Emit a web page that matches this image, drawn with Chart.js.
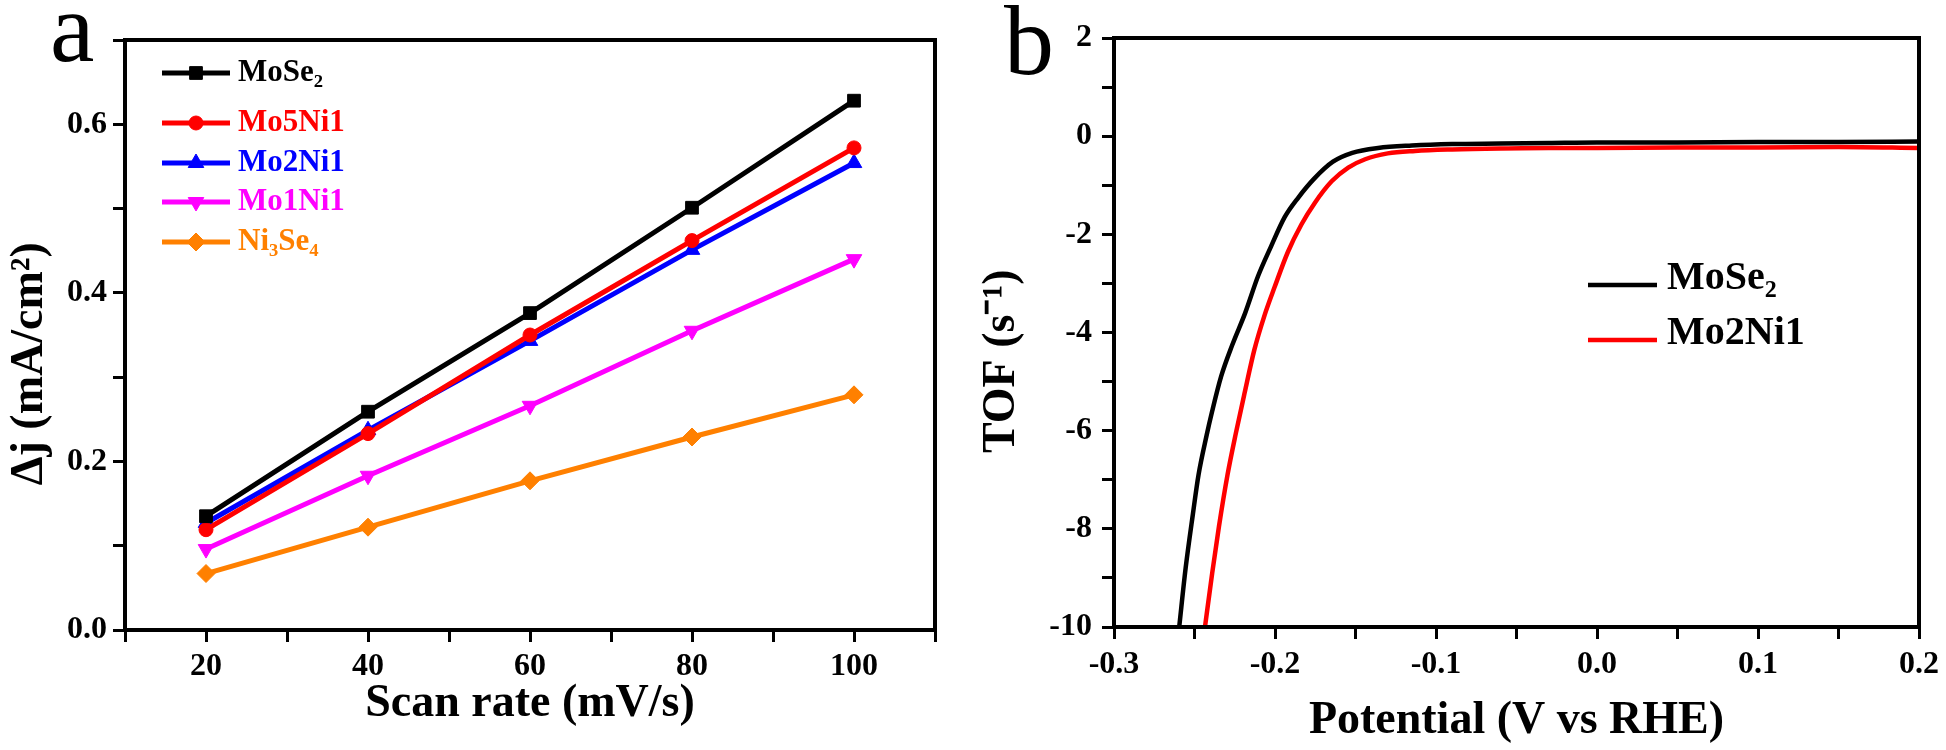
<!DOCTYPE html>
<html>
<head>
<meta charset="utf-8">
<script src="https://cdn.jsdelivr.net/npm/chart.js@4.4.0/dist/chart.umd.min.js"></script>
<style>
  html, body { margin: 0; padding: 0; background: #fff; }
  body { width: 1946px; height: 750px; position: relative; overflow: hidden; }
  canvas { position: absolute; top: 0; }
  #chartA { left: 0; }
  #chartB { left: 950px; }
  .panel { position: absolute; font: 100px "Liberation Serif", "Times New Roman", serif; line-height: 100px; color: #000; }
</style>
</head>
<body>
<div class="panel" style="left:50px; top:-22px;">a</div>
<div class="panel" style="left:1004px; top:-9px;">b</div>
<canvas id="chartA" width="980" height="750"></canvas>
<canvas id="chartB" width="996" height="750"></canvas>
<script>
// panel a: double-layer current difference vs scan rate
const scanRates = [20, 40, 60, 80, 100];
const moSe2Vals  = [0.135, 0.259, 0.376, 0.501, 0.628];
const mo5Ni1Vals = [0.119, 0.233, 0.350, 0.462, 0.572];
const mo2Ni1Vals = [0.127, 0.237, 0.343, 0.451, 0.554];
const mo1Ni1Vals = [0.096, 0.183, 0.266, 0.355, 0.440];
const ni3Se4Vals = [0.067, 0.122, 0.177, 0.229, 0.279];

const xTicksA  = [10, 20, 30, 40, 50, 60, 70, 80, 90, 100, 110];
const xLabelsA = ['', '20', '', '40', '', '60', '', '80', '', '100', ''];
const yTicksA  = [0, 0.1, 0.2, 0.3, 0.4, 0.5, 0.6, 0.7];
const yLabelsA = ['0.0', '', '0.2', '', '0.4', '', '0.6', ''];

// panel b: TOF curves
const mose2Pot = [-0.2595, -0.2555, -0.251, -0.2475, -0.2425, -0.239, -0.2335, -0.2265, -0.2185, -0.2105,
  -0.2025, -0.194, -0.1855, -0.1755, -0.164, -0.152, -0.136, -0.115, -0.09, -0.06, -0.03, 0.0, 0.05, 0.1, 0.15, 0.2];
const mose2Tof = [-10, -8.8, -7.7, -6.9, -6.1, -5.6, -4.9, -4.25, -3.6, -2.85,
  -2.25, -1.65, -1.25, -0.86, -0.52, -0.34, -0.24, -0.19, -0.16, -0.15, -0.14, -0.13, -0.13, -0.12, -0.12, -0.11];
const mo2Ni1Pot = [-0.2435, -0.239, -0.2348, -0.2295, -0.2243, -0.219, -0.2128, -0.2065, -0.2003, -0.192,
  -0.1836, -0.1753, -0.1648, -0.1545, -0.144, -0.13, -0.113, -0.09, -0.06, -0.03, 0.0, 0.05, 0.1, 0.15, 0.2];
const mo2Ni1Tof = [-10, -8.9, -7.95, -6.9, -6.05, -5.25, -4.35, -3.65, -3.08, -2.36,
  -1.8, -1.36, -0.92, -0.64, -0.47, -0.35, -0.3, -0.27, -0.25, -0.24, -0.24, -0.23, -0.23, -0.22, -0.24];

const xTicksB  = [-0.3, -0.25, -0.2, -0.15, -0.1, -0.05, 0, 0.05, 0.1, 0.15, 0.2];
const xLabelsB = ['-0.3', '', '-0.2', '', '-0.1', '', '0.0', '', '0.1', '', '0.2'];
const yTicksB  = [-10, -9, -8, -7, -6, -5, -4, -3, -2, -1, 0, 1, 2];
const yLabelsB = ['-10', '', '-8', '', '-6', '', '-4', '', '-2', '', '0', '', '2'];

const SERIF = '"Liberation Serif", "Times New Roman", serif';

function pts(xs, ys) {
  return xs.map((x, i) => ({ x: x, y: ys[i] }));
}

function fixedTicks(values, labels) {
  return {
    afterBuildTicks: s => { s.ticks = values.map(v => ({ value: v })); },
    labelOf: (v) => {
      const i = values.findIndex(t => Math.abs(t - v) < 1e-9);
      return i < 0 ? '' : labels[i];
    }
  };
}

// draws the black frame round the plot area
const frame = {
  id: 'frame',
  afterDraw(chart) {
    const a = chart.chartArea, ctx = chart.ctx;
    ctx.save();
    ctx.strokeStyle = '#000';
    ctx.lineWidth = 4;
    ctx.strokeRect(a.left, a.top, a.right - a.left, a.bottom - a.top);
    ctx.restore();
  }
};

// legend drawn inside the plot, line + marker + label
const insideLegend = {
  id: 'insideLegend',
  afterDatasetsDraw(chart, args, opts) {
    const ctx = chart.ctx;
    ctx.save();
    chart.data.datasets.forEach((ds, i) => {
      const y = opts.rows[i];
      ctx.strokeStyle = ds.borderColor;
      ctx.lineWidth = ds.borderWidth;
      ctx.beginPath();
      ctx.moveTo(opts.x0, y);
      ctx.lineTo(opts.x1, y);
      ctx.stroke();
      if (opts.markers) {
        ctx.fillStyle = ds.pointBackgroundColor;
        ctx.strokeStyle = ds.borderColor;
        ctx.lineWidth = 1;
        Chart.helpers.drawPoint(ctx, {
          pointStyle: ds.pointStyle, rotation: ds.pointRotation || 0,
          radius: ds.pointRadius, borderWidth: 1
        }, (opts.x0 + opts.x1) / 2, y);
      }
      ctx.fillStyle = opts.colorText ? ds.borderColor : '#000';
      ctx.font = opts.font;
      ctx.textBaseline = 'middle';
      ctx.textAlign = 'left';
      ctx.fillText(ds.label, opts.textX, y + opts.textDy);
    });
    ctx.restore();
  }
};

function axisOpts(tk, extra) {
  return Object.assign({
    type: 'linear',
    afterBuildTicks: tk.afterBuildTicks,
    grid: { display: true, drawOnChartArea: false, drawTicks: true, tickLength: 12, tickWidth: 3, tickColor: '#000' },
    border: { display: false },
    ticks: {
      color: '#000', font: { family: SERIF, size: 32, weight: 'bold' },
      autoSkip: false, maxRotation: 0,
      callback: v => tk.labelOf(v)
    }
  }, extra);
}

function series(label, xs, ys, color, style, radius, rot) {
  return {
    label: label, data: pts(xs, ys),
    borderColor: color, backgroundColor: color,
    pointBackgroundColor: color, pointBorderColor: color, pointBorderWidth: 1,
    borderWidth: 5, pointStyle: style, pointRadius: radius, pointRotation: rot || 0,
    tension: 0
  };
}

const tkXA = fixedTicks(xTicksA, xLabelsA), tkYA = fixedTicks(yTicksA, yLabelsA);
const xA = axisOpts(tkXA, {
  min: 10, max: 110,
  afterFit: s => { s.height = 120; },
  title: { display: true, text: 'Scan rate (mV/s)', color: '#000',
    font: { family: SERIF, size: 46, weight: 'bold' }, padding: { top: 0, bottom: 18 } }
});
xA.ticks.padding = 6;
const yA = axisOpts(tkYA, {
  min: 0, max: 0.7,
  afterFit: s => { s.width = 125; },
  title: { display: true, text: 'Δj (mA/cm²)     ', color: '#000',
    font: { family: SERIF, size: 46, weight: 'bold' }, padding: { top: 3, bottom: 0 } }
});
yA.ticks.padding = 6;

new Chart(document.getElementById('chartA'), {
  type: 'line',
  data: {
    datasets: [
      series('MoSe₂', scanRates, moSe2Vals, '#000000', 'rect', 9),
      series('Mo5Ni1', scanRates, mo5Ni1Vals, '#ff0000', 'circle', 7),
      series('Mo2Ni1', scanRates, mo2Ni1Vals, '#0000ff', 'triangle', 9),
      series('Mo1Ni1', scanRates, mo1Ni1Vals, '#ff00ff', 'triangle', 9, 180),
      series('Ni₃Se₄', scanRates, ni3Se4Vals, '#ff8000', 'rectRot', 9)
    ]
  },
  options: {
    responsive: false,
    animation: false,
    layout: { padding: { left: 0, top: 40, right: 45, bottom: 0 } },
    scales: { x: xA, y: yA },
    plugins: {
      legend: { display: false },
      tooltip: { enabled: false },
      insideLegend: {
        x0: 162, x1: 230, textX: 238, rows: [73, 123, 163, 202, 242], textDy: 0,
        markers: true, colorText: true, font: 'bold 31px ' + SERIF
      }
    }
  },
  plugins: [frame, insideLegend]
});

const tkXB = fixedTicks(xTicksB, xLabelsB), tkYB = fixedTicks(yTicksB, yLabelsB);
const xB = axisOpts(tkXB, {
  min: -0.3, max: 0.2,
  afterFit: s => { s.height = 123; },
  title: { display: true, text: 'Potential (V vs RHE)', color: '#000',
    font: { family: SERIF, size: 46, weight: 'bold' }, padding: { top: 0, bottom: 1 } }
});
xB.ticks.padding = 7;
const yB = axisOpts(tkYB, {
  min: -10, max: 2,
  afterFit: s => { s.width = 164; },
  title: { display: true, text: 'TOF (s⁻¹)     ', color: '#000',
    font: { family: SERIF, size: 46, weight: 'bold' }, padding: { top: 25, bottom: 0 } }
});
yB.ticks.padding = 10;

function curve(label, xs, ys, color) {
  return {
    label: label, data: pts(xs, ys),
    borderColor: color, backgroundColor: color,
    borderWidth: 4.5, pointRadius: 0, cubicInterpolationMode: 'monotone'
  };
}

new Chart(document.getElementById('chartB'), {
  type: 'line',
  data: {
    datasets: [
      curve('MoSe₂', mose2Pot, mose2Tof, '#000000'),
      curve('Mo2Ni1', mo2Ni1Pot, mo2Ni1Tof, '#ff0000')
    ]
  },
  options: {
    responsive: false,
    animation: false,
    layout: { padding: { left: 0, top: 38, right: 25, bottom: 0 } },
    scales: { x: xB, y: yB },
    plugins: {
      legend: { display: false },
      tooltip: { enabled: false },
      insideLegend: {
        x0: 638, x1: 707, textX: 717, rows: [285, 340], textDy: -6,
        markers: false, colorText: false, font: 'bold 40px ' + SERIF
      }
    }
  },
  plugins: [frame, insideLegend]
});
</script>
</body>
</html>
